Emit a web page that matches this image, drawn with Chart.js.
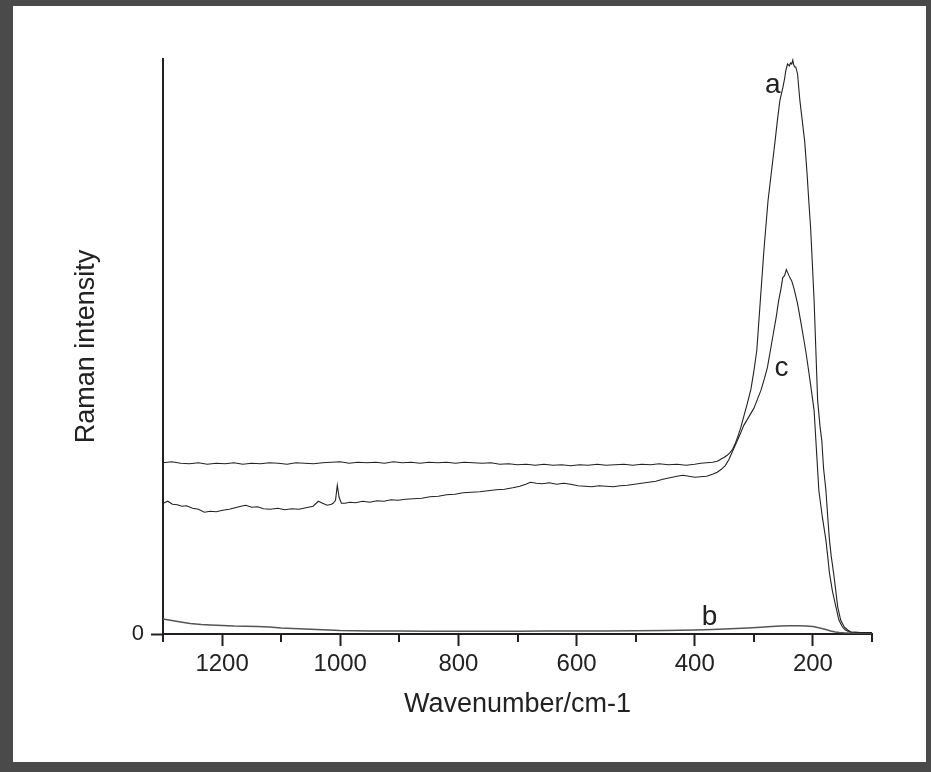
<!DOCTYPE html>
<html>
<head>
<meta charset="utf-8">
<script src="https://cdn.jsdelivr.net/npm/chart.js@4.4.1/dist/chart.umd.min.js"></script>
<style>
  body { margin: 0; background: #4a4a4a; }
  #wrap { position: absolute; left: 13px; top: 6px; width: 913px; height: 756px; background: #fff; }
</style>
</head>
<body>
<div id="wrap"><canvas id="raman" width="913" height="756"></canvas></div>
<script>
// spectrum a (flat baseline, strong band near 235)
const aX = [1300,1285,1270,1255,1240,1225,1210,1195,1180,1165,
            1150,1135,1120,1105,1090,1075,1060,1045,1030,1015,
            1000,985,970,955,940,925,910,895,880,865,
            850,835,820,805,790,775,760,745,730,715,
            700,685,670,655,640,625,610,595,580,565,
            550,535,520,505,490,475,460,445,430,415,
            400,390,380,370,362,356,350,345,340,336,
            332,327,322,317,311,305,300,295,289,283,
            276,270,264,260,256,251,248,246,243,240,
            238,236,234,233,231,229,226,222,218,214,
            210,207,204,202,198,195,192,188,185,182,
            178,175,172,169,165,161,158,153,147,141,
            136,128,120,110,100];
const aY = [171.5,172.5,171,170.5,171.5,170,171,170.5,171.5,170,
            171,170.5,171.5,171,170,171.5,171,170.5,171.5,172,
            172.5,171,172,171.5,172,171,172.5,171.5,172,171,
            172,171.5,172,171,172,171.5,171,171.5,170,170.5,
            169.5,170,169,170,169,169.5,168.5,169.5,169,170,
            169,169.5,170,169,170,169.5,170.5,169.5,170,169,
            170,171,171.5,172,173,175,177,179,182,185,
            190,198,207,218,231,245,263,284,334,384,
            434,464,494,515,534,547,556,564,571,569,
            572,571,575,571,568,568,561,534,514,494,
            462,434,408,384,334,284,234,208,194,166,
            144,118,94,78,61,42,27,14,7,4,
            2,1.8,1.5,1.5,1.5];

// spectrum b (weak, near zero)
const bX = [1300,1290,1280,1270,1254,1235,1220,1200,1180,1160,
            1140,1120,1100,1080,1060,1040,1020,1000,950,900,
            850,800,750,700,650,600,550,500,450,400,
            370,340,310,288,270,255,240,225,212,200,
            192,185,178,170,162,155,148,140,125,100];
const bY = [15,14,13,12,10.5,9.5,9,8.5,8,7.8,
            7.5,7,6,5.5,5,4.5,4,3.5,3,3,
            2.8,2.8,2.8,2.8,3,3,3,3.2,3.5,4,
            4.5,5.2,6,6.8,7.5,8,8.2,8.2,8,7.5,
            6.5,5.5,4.5,3,2,1.5,1.2,1,1,1];

// spectrum c (sloping baseline, small peak near 1005)
const cX = [1300,1292,1284,1276,1268,1260,1250,1240,1230,1220,
            1210,1199,1188,1178,1168,1160,1150,1140,1130,1118,
            1106,1094,1082,1070,1058,1046,1037,1030,1022,1015,
            1012,1008,1005,1002,998,992,984,974,962,950,
            938,926,914,902,890,876,862,848,834,820,
            806,792,778,764,750,736,722,708,696,686,
            678,668,658,646,634,622,610,598,586,574,
            562,550,538,526,514,502,490,478,466,454,
            442,430,420,410,400,390,380,370,362,355,
            348,342,336,330,324,317,308,300,294,288,
            282,277,272,267,262,258,254,251,248,245,
            242,239,236,232,226,220,216,212,209,204,
            198,195,190,184,178,175,172,167,161,156,
            150,145,140,136,128,120,110,100];
const cY = [131,133,130,129.5,128,128.5,126,125,122,123,
            122.5,124,125,126.5,128,129,127,127.5,125.5,125,
            126,124.5,125.5,125,126.5,128,133,131,129,130,
            131,134,149,137,131,131,132,131.5,133,132,
            133.5,133,134.5,134,135,135.5,136,137.5,138,139.5,
            140,141.5,142,142.5,143.5,144.5,145,146.5,148,150,
            152,151,150.5,151.5,150,151,150,148.5,148,147.5,
            148.5,148,147.5,148.5,149,150,151,152,153,155,
            156.5,158,159,158,157,157.5,158,160,162,165,
            169,175,183,191,199,209,218,226,235,244,
            256,267,284,301,318,334,346,357,359,365,
            361,357,354,346,331,311,297,283,271,250,
            224,194,144,117,94,78,61,43,27,14,
            7,4,2.5,2,1.8,1.5,1.5,1.5];

// curve letters, placed in data coordinates
const curveLabels = ['a', 'b', 'c'];
const labelX = [268, 375, 253];
const labelY = [542, 9, 258];

const axisColor = '#231f20';
const lineColor = '#222222';
const fontFamily = '"Liberation Sans", Arial, sans-serif';

function toPoints(xs, ys) {
  return xs.map((v, i) => ({ x: v, y: ys[i] }));
}

// minor ticks on the x axis + curve letters
const overlay = {
  id: 'overlay',
  afterDraw(chart) {
    const { ctx } = chart;
    const x = chart.scales.x, y = chart.scales.y;
    ctx.save();
    ctx.strokeStyle = axisColor;
    ctx.lineWidth = 2;
    for (let v = 100; v <= 1300; v += 200) {
      const px = Math.round(x.getPixelForValue(v));
      ctx.beginPath();
      ctx.moveTo(px, y.bottom);
      ctx.lineTo(px, y.bottom + 8);
      ctx.stroke();
    }
    ctx.font = '28px ' + fontFamily;
    ctx.fillStyle = lineColor;
    ctx.textAlign = 'center';
    ctx.textBaseline = 'alphabetic';
    curveLabels.forEach((t, i) => {
      ctx.fillText(t, x.getPixelForValue(labelX[i]), y.getPixelForValue(labelY[i]));
    });
    ctx.restore();
  }
};

new Chart(document.getElementById('raman'), {
  type: 'line',
  data: {
    datasets: [
      { label: 'a', data: toPoints(aX, aY), borderColor: lineColor, borderWidth: 1.1 },
      { label: 'b', data: toPoints(bX, bY), borderColor: '#555555', borderWidth: 1.4 },
      { label: 'c', data: toPoints(cX, cY), borderColor: lineColor, borderWidth: 1.1 }
    ]
  },
  options: {
    responsive: false,
    animation: false,
    clip: false,
    elements: { point: { radius: 0 }, line: { tension: 0 } },
    layout: { padding: { top: 53, right: 54, left: 0, bottom: 0 } },
    plugins: { legend: { display: false }, tooltip: { enabled: false } },
    scales: {
      x: {
        type: 'linear',
        reverse: true,
        min: 100,
        max: 1300,
        afterFit: (s) => { s.height = 128; },
        border: { color: axisColor, width: 2 },
        grid: {
          drawOnChartArea: false,
          tickLength: 12,
          tickWidth: 2,
          tickColor: (c) => (c.tick && c.tick.value % 200 === 0 ? axisColor : 'rgba(0,0,0,0)')
        },
        ticks: {
          stepSize: 100,
          padding: 4,
          maxRotation: 0,
          autoSkip: false,
          color: lineColor,
          font: { family: fontFamily, size: 24 },
          callback: (v) => (v % 200 === 0 ? String(v) : '')
        },
        title: {
          display: true,
          text: 'Wavenumber/cm-1',
          color: lineColor,
          font: { family: fontFamily, size: 27 },
          padding: { top: 0, bottom: 41 }
        }
      },
      y: {
        min: 0,
        max: 576,
        afterFit: (s) => { s.width = 150; },
        afterBuildTicks: (s) => { s.ticks = [{ value: 0 }]; },
        border: { color: axisColor, width: 2 },
        grid: { drawOnChartArea: false, tickLength: 12, tickWidth: 2, tickColor: axisColor },
        ticks: {
          padding: 7,
          color: lineColor,
          font: { family: fontFamily, size: 22 },
          callback: (v) => String(v)
        },
        title: {
          display: true,
          text: 'Raman intensity',
          color: lineColor,
          font: { family: fontFamily, size: 27 },
          padding: { top: 57, bottom: 0 }
        }
      }
    }
  },
  plugins: [overlay]
});
</script>
</body>
</html>
